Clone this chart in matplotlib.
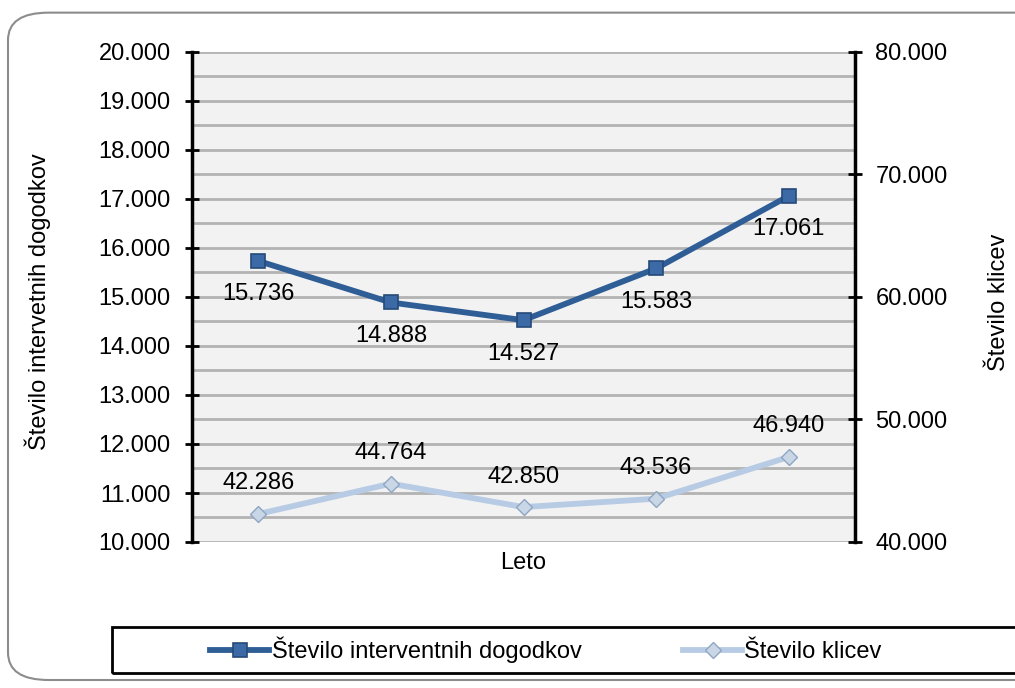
import matplotlib.pyplot as plt
import matplotlib.patches as mpatches
import numpy as np

plt.rcParams['font.family'] = ['Liberation Sans', 'DejaVu Sans']

# five years, no labels on the x axis in the original
dogodki = [15.736, 14.888, 14.527, 15.583, 17.061]
klici = [42.286, 44.764, 42.850, 43.536, 46.940]
dogodki_txt = ["15.736", "14.888", "14.527", "15.583", "17.061"]
klici_txt = ["42.286", "44.764", "42.850", "43.536", "46.940"]
left_ticks = [10, 11, 12, 13, 14, 15, 16, 17, 18, 19, 20]
right_ticks = [40, 50, 60, 70, 80]

dark = "#2f5e96"
light = "#b7cce4"
fs = 17

fig = plt.figure(figsize=(10.15, 6.88), dpi=100)

# rounded chart border, cut off on the right like the original
border = mpatches.FancyBboxPatch((8 / 1015, 8 / 688), 1.2, 0.97,
                                 boxstyle="round,pad=0,rounding_size=0.04",
                                 transform=fig.transFigure, fill=False,
                                 edgecolor="#8c8c8c", linewidth=1.5, zorder=0)
fig.patches.append(border)

ax = fig.add_axes([192 / 1015, 1 - 542 / 688, (855 - 192) / 1015, (542 - 52) / 688])
ax2 = ax.twinx()

x = np.arange(len(dogodki))
ax.set_xlim(-0.5, 4.5)
ax.set_ylim(10, 20)
ax2.set_ylim(40, 80)

ax.set_facecolor("#f2f2f2")
for yv in np.arange(10, 20.01, 0.5):
    ax.axhline(yv, color="#b3b3b3", linewidth=2, zorder=1)

ax.plot(x, dogodki, color=dark, linewidth=4.2, marker="s", markersize=10,
        markerfacecolor="#3b6aa6", markeredgecolor="#254a78", markeredgewidth=1.2,
        zorder=5, label="Število interventnih dogodkov")
ax2.plot(x, klici, color=light, linewidth=4.2, marker="D", markersize=8.5,
         markerfacecolor="#c9d6e6", markeredgecolor="#8fa6c2", markeredgewidth=1,
         zorder=5, label="Število klicev")

for xi, v, t in zip(x, dogodki, dogodki_txt):
    ax.annotate(t, (xi, v), xytext=(0, -24), textcoords="offset points",
                ha="center", va="center", fontsize=fs)
for xi, v, t in zip(x, klici, klici_txt):
    ax2.annotate(t, (xi, v), xytext=(0, 22), textcoords="offset points",
                 ha="center", va="center", fontsize=fs)

ax.set_yticks(left_ticks)
ax.set_yticklabels([f"{t}.000" for t in left_ticks], fontsize=fs)
ax2.set_yticks(right_ticks)
ax2.set_yticklabels([f"{t}.000" for t in right_ticks], fontsize=fs)
ax.set_xticks([])

for a in (ax, ax2):
    for s in ("top", "bottom"):
        a.spines[s].set_visible(False)
ax.spines["right"].set_visible(False)
ax2.spines["left"].set_visible(False)
ax.spines["left"].set_linewidth(2.5)
ax2.spines["right"].set_linewidth(2.5)
ax.tick_params(axis="y", direction="inout", length=9.5, width=2, pad=10.5)
ax2.tick_params(axis="y", direction="inout", length=9.5, width=2, pad=10)
ax2.set_zorder(ax.get_zorder() + 1)
ax2.patch.set_visible(False)

ax.set_xlabel("Leto", fontsize=fs, labelpad=7)
ax.set_ylabel("Število intervetnih dogodkov", fontsize=fs)
ax.yaxis.set_label_coords(-0.213, 0.49)
ax2.set_ylabel("Število klicev", fontsize=fs, rotation=90)
ax2.yaxis.set_label_coords(1.2, 0.49)

# legend box at the bottom, running off the right edge
legbox = mpatches.Rectangle((112 / 1015, 1 - 673 / 688), 1.0, 46 / 688,
                            transform=fig.transFigure, fill=False,
                            edgecolor="black", linewidth=2)
fig.patches.append(legbox)

h1, l1 = ax.get_legend_handles_labels()
h2, l2 = ax2.get_legend_handles_labels()
fig.legend(h1 + h2, l1 + l2, loc="center",
           bbox_to_anchor=(546 / 1015, 1 - 650 / 688),
           ncol=2, fontsize=fs, frameon=False,
           handlelength=2.5, handletextpad=0.1,
           borderaxespad=0, columnspacing=4.3)

fig.savefig("out.png", dpi=100)
